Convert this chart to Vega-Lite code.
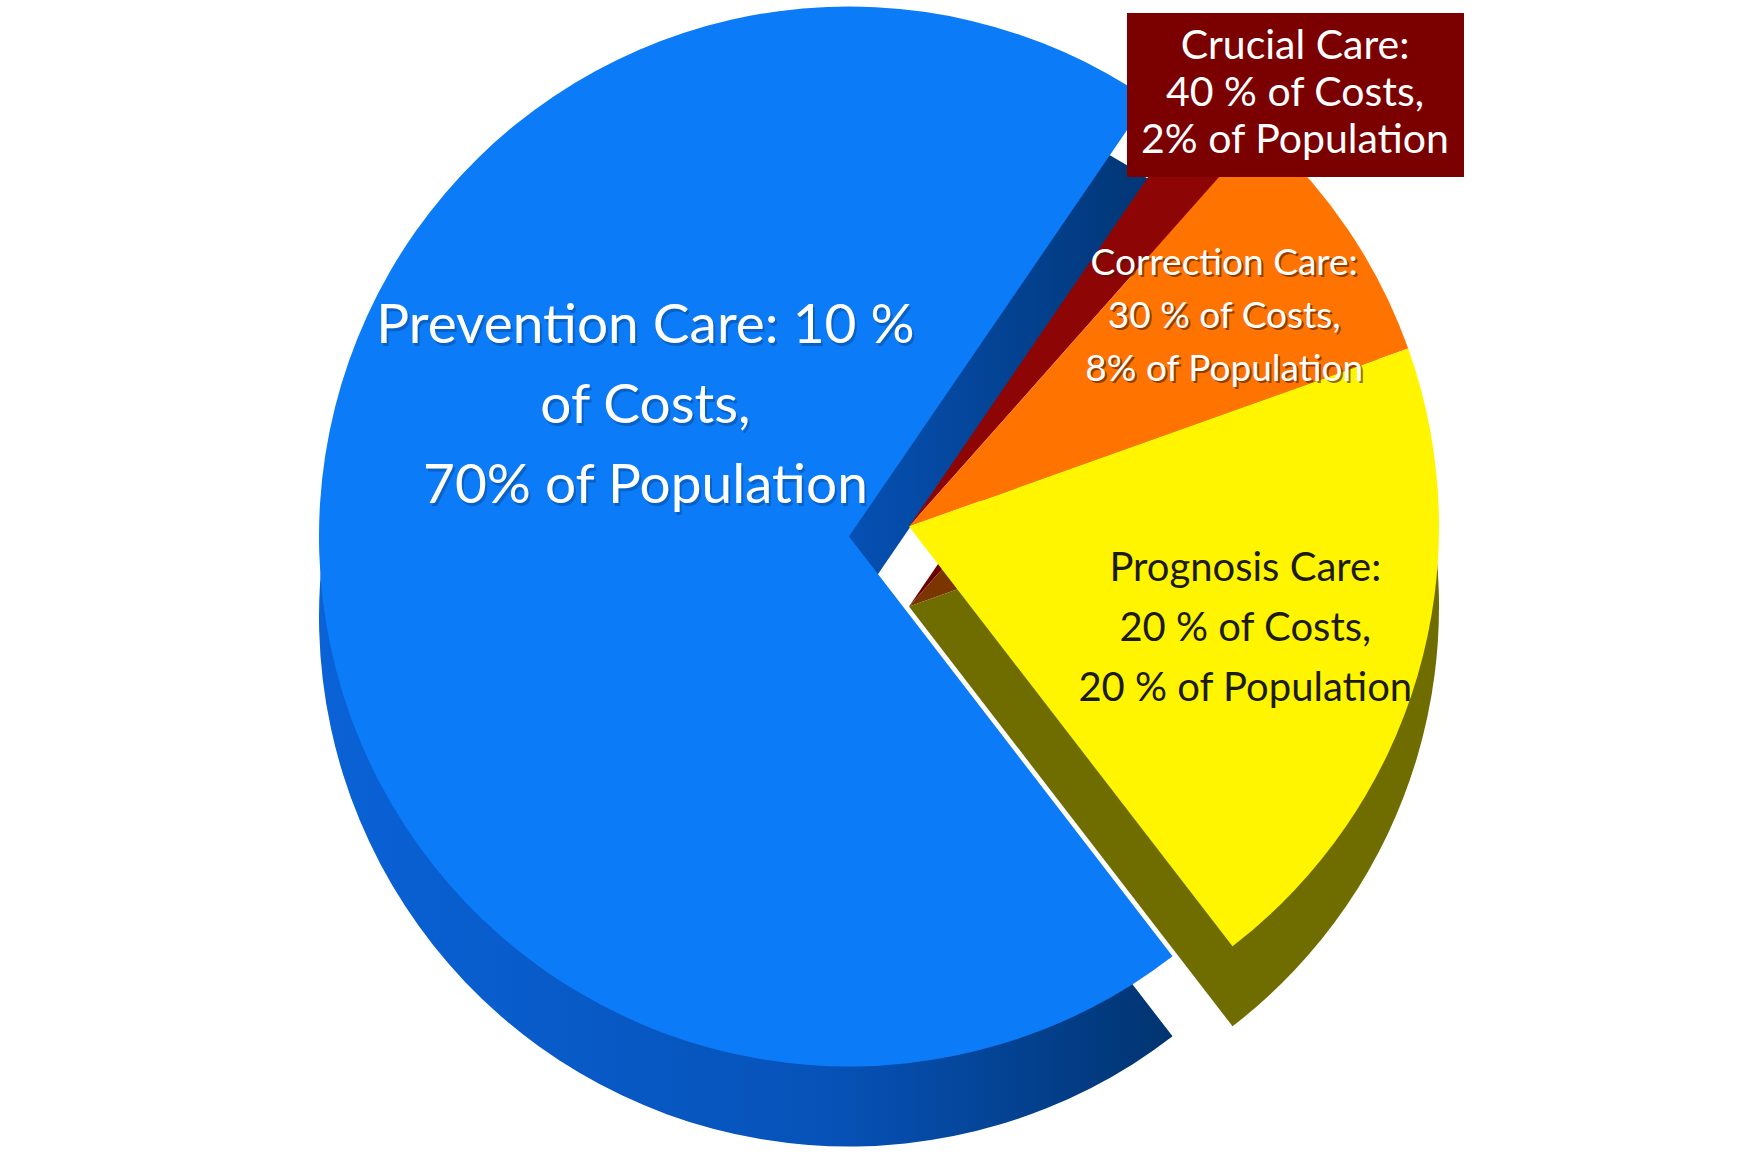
{
  "$schema": "https://vega.github.io/schema/vega-lite/v6.json",
  "autosize": {"type": "fit", "contains": "padding"},
  "width": 1758,
  "height": 1169,
  "padding": {"top": 0, "left": 0, "right": 60, "bottom": 70},
  "background": "white",
  "config": {"view": {"stroke": null}},
  "data": {
    "values": [
      {"segment": "Crucial Care", "population": 2, "rank": 1, "label": "Crucial Care:\n40 % of Costs,\n2% of Population"},
      {"segment": "Correction Care", "population": 8, "rank": 2, "label": "Correction Care:\n30 % of Costs,\n8% of Population"},
      {"segment": "Prognosis Care", "population": 20, "rank": 3, "label": "Prognosis Care:\n20 % of Costs,\n20 % of Population"},
      {"segment": "Prevention Care", "population": 70, "rank": 4, "label": "Prevention Care: 10 %\nof Costs,\n70% of Population"}
    ]
  },
  "encoding": {
    "theta": {"field": "population", "type": "quantitative", "stack": true, "scale": {"range": [0.6, 6.8832]}},
    "order": {"field": "rank", "type": "quantitative", "sort": "ascending"}
  },
  "layer": [
    {
      "mark": {"type": "arc", "radius": 530, "xOffset": 60, "yOffset": 70},
      "encoding": {
        "color": {"field": "segment", "type": "nominal", "legend": null,
          "scale": {"domain": ["Crucial Care", "Correction Care", "Prognosis Care", "Prevention Care"], "range": ["#6e0000", "#7a3500", "#6f6c00", "#0a52b8"]}},
        "opacity": {"condition": {"test": "datum.segment !== 'Prevention Care'", "value": 1}, "value": 0}
      }
    },
    {
      "mark": {"type": "arc", "radius": 530, "yOffset": 80,
        "fill": {"gradient": "linear", "x1": 0, "y1": 0, "x2": 1, "y2": 0,
          "stops": [{"offset": 0, "color": "#0a62d6"}, {"offset": 0.6, "color": "#0652b8"}, {"offset": 1, "color": "#013470"}]}},
      "encoding": {
        "opacity": {"condition": {"test": "datum.segment === 'Prevention Care'", "value": 1}, "value": 0}
      }
    },
    {
      "mark": {"type": "arc", "radius": 530, "xOffset": 60, "yOffset": -10},
      "encoding": {
        "color": {"field": "segment", "type": "nominal",
          "scale": {"domain": ["Crucial Care", "Correction Care", "Prognosis Care", "Prevention Care"], "range": ["#8e0505", "#ff7300", "#fff500", "#0b7bf7"]},
          "legend": {
            "values": ["Crucial Care"],
            "orient": "none", "legendX": 1127, "legendY": 13,
            "title": ["Crucial Care:", "40 % of Costs,", "2% of Population"],
            "titleFont": "Lato", "titleFontSize": 41, "titleFontWeight": "normal", "titleColor": "white",
            "titleLineHeight": 47, "titleAlign": "center", "titleAnchor": "middle", "titlePadding": 0, "titleLimit": 1000,
            "fillColor": "#7b0000", "padding": 14,
            "symbolSize": 0, "symbolOpacity": 0, "labelOpacity": 0, "labelFontSize": 1, "labelExpr": "''"
          }},
        "opacity": {"condition": {"test": "datum.segment !== 'Prevention Care'", "value": 1}, "value": 0}
      }
    },
    {
      "mark": {"type": "arc", "radius": 530, "fill": "#0b7bf7"},
      "encoding": {
        "opacity": {"condition": {"test": "datum.segment === 'Prevention Care'", "value": 1}, "value": 0}
      }
    },
    {
      "mark": {"type": "text", "radius": 293, "thetaOffset": 0.831, "dx": 2, "dy": 3, "font": "Lato", "fontSize": 55, "lineHeight": 80, "lineBreak": "\n", "align": "center", "baseline": "middle", "fill": "#06306a"},
      "encoding": {
        "text": {"field": "label", "type": "nominal"},
        "opacity": {"condition": {"test": "datum.segment === 'Prevention Care'", "value": 0.35}, "value": 0}
      }
    },
    {
      "mark": {"type": "text", "radius": 293, "thetaOffset": 0.831, "font": "Lato", "fontSize": 55, "lineHeight": 80, "lineBreak": "\n", "align": "center", "baseline": "middle", "fill": "white"},
      "encoding": {
        "text": {"field": "label", "type": "nominal"},
        "opacity": {"condition": {"test": "datum.segment === 'Prevention Care'", "value": 1}, "value": 0}
      }
    },
    {
      "mark": {"type": "text", "radius": 410, "thetaOffset": -0.1, "xOffset": 62, "yOffset": -8, "font": "Lato", "fontSize": 37, "lineHeight": 53, "lineBreak": "\n", "align": "center", "baseline": "middle", "fill": "#4a1c00"},
      "encoding": {
        "text": {"field": "label", "type": "nominal"},
        "opacity": {"condition": {"test": "datum.segment === 'Correction Care'", "value": 0.6}, "value": 0}
      }
    },
    {
      "mark": {"type": "text", "radius": 410, "thetaOffset": -0.1, "xOffset": 60, "yOffset": -10, "font": "Lato", "fontSize": 37, "lineHeight": 53, "lineBreak": "\n", "align": "center", "baseline": "middle", "fill": "white"},
      "encoding": {
        "text": {"field": "label", "type": "nominal"},
        "opacity": {"condition": {"test": "datum.segment === 'Correction Care'", "value": 1}, "value": 0}
      }
    },
    {
      "mark": {"type": "text", "radius": 339, "thetaOffset": -0.159, "xOffset": 60, "yOffset": -10, "font": "Lato", "fontSize": 40, "lineHeight": 60, "lineBreak": "\n", "align": "center", "baseline": "middle", "fill": "#1c1c06"},
      "encoding": {
        "text": {"field": "label", "type": "nominal"},
        "opacity": {"condition": {"test": "datum.segment === 'Prognosis Care'", "value": 1}, "value": 0}
      }
    }
  ],
  "resolve": {"scale": {"color": "independent"}}
}
